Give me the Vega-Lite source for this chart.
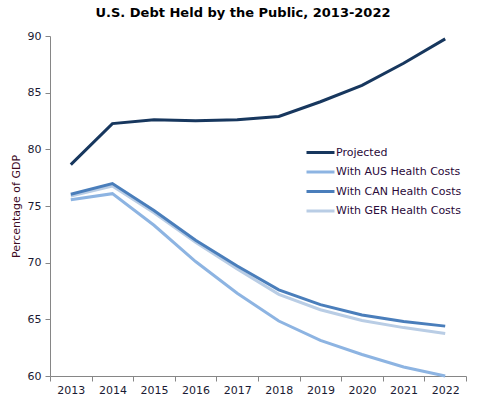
{
  "$schema": "https://vega.github.io/schema/vega-lite/v6.json",
  "width": 416,
  "height": 340,
  "autosize": {"type": "none"},
  "padding": {"left": 50, "top": 36, "right": 12, "bottom": 25},
  "background": "white",
  "title": {
    "text": "U.S. Debt Held by the Public, 2013-2022",
    "font": "DejaVu Sans",
    "fontSize": 13,
    "fontWeight": "bold",
    "color": "#000000",
    "anchor": "middle",
    "dx": -15,
    "offset": 10
  },
  "config": {
    "view": {"stroke": null},
    "font": "DejaVu Sans"
  },
  "data": {
    "values": [
      {"year": "2013", "series": "Projected", "value": 78.65},
      {"year": "2014", "series": "Projected", "value": 82.27},
      {"year": "2015", "series": "Projected", "value": 82.62},
      {"year": "2016", "series": "Projected", "value": 82.53},
      {"year": "2017", "series": "Projected", "value": 82.6},
      {"year": "2018", "series": "Projected", "value": 82.9},
      {"year": "2019", "series": "Projected", "value": 84.2},
      {"year": "2020", "series": "Projected", "value": 85.65},
      {"year": "2021", "series": "Projected", "value": 87.6},
      {"year": "2022", "series": "Projected", "value": 89.75},
      {"year": "2013", "series": "With AUS Health Costs", "value": 75.56},
      {"year": "2014", "series": "With AUS Health Costs", "value": 76.09},
      {"year": "2015", "series": "With AUS Health Costs", "value": 73.3},
      {"year": "2016", "series": "With AUS Health Costs", "value": 70.1},
      {"year": "2017", "series": "With AUS Health Costs", "value": 67.3},
      {"year": "2018", "series": "With AUS Health Costs", "value": 64.85},
      {"year": "2019", "series": "With AUS Health Costs", "value": 63.15},
      {"year": "2020", "series": "With AUS Health Costs", "value": 61.9},
      {"year": "2021", "series": "With AUS Health Costs", "value": 60.8},
      {"year": "2022", "series": "With AUS Health Costs", "value": 60.0},
      {"year": "2013", "series": "With GER Health Costs", "value": 75.88},
      {"year": "2014", "series": "With GER Health Costs", "value": 76.76},
      {"year": "2015", "series": "With GER Health Costs", "value": 74.4},
      {"year": "2016", "series": "With GER Health Costs", "value": 71.8},
      {"year": "2017", "series": "With GER Health Costs", "value": 69.45},
      {"year": "2018", "series": "With GER Health Costs", "value": 67.2},
      {"year": "2019", "series": "With GER Health Costs", "value": 65.85},
      {"year": "2020", "series": "With GER Health Costs", "value": 64.9},
      {"year": "2021", "series": "With GER Health Costs", "value": 64.27},
      {"year": "2022", "series": "With GER Health Costs", "value": 63.75},
      {"year": "2013", "series": "With CAN Health Costs", "value": 76.03},
      {"year": "2014", "series": "With CAN Health Costs", "value": 76.98},
      {"year": "2015", "series": "With CAN Health Costs", "value": 74.6},
      {"year": "2016", "series": "With CAN Health Costs", "value": 71.97},
      {"year": "2017", "series": "With CAN Health Costs", "value": 69.7},
      {"year": "2018", "series": "With CAN Health Costs", "value": 67.6},
      {"year": "2019", "series": "With CAN Health Costs", "value": 66.3},
      {"year": "2020", "series": "With CAN Health Costs", "value": 65.38},
      {"year": "2021", "series": "With CAN Health Costs", "value": 64.8},
      {"year": "2022", "series": "With CAN Health Costs", "value": 64.4}
    ]
  },
  "mark": {"type": "line", "strokeWidth": 3, "strokeCap": "butt"},
  "encoding": {
    "x": {
      "field": "year",
      "type": "ordinal",
      "bandPosition": 0.5,
      "scale": {"type": "band", "paddingInner": 0, "paddingOuter": 0},
      "axis": {
        "title": null,
        "labelAngle": 0,
        "tickBand": "extent",
        "domainColor": "#868686",
        "tickColor": "#868686",
        "tickSize": 5,
        "labelFont": "DejaVu Sans",
        "labelFontSize": 11,
        "labelColor": "#1a1a33",
        "labelPadding": 3,
        "grid": false
      }
    },
    "y": {
      "field": "value",
      "type": "quantitative",
      "scale": {"domain": [60, 90], "nice": false, "zero": false},
      "axis": {
        "values": [60, 65, 70, 75, 80, 85, 90],
        "title": "Percentage of GDP",
        "titleFont": "DejaVu Sans",
        "titleFontSize": 11,
        "titleFontWeight": "normal",
        "titleColor": "#3d0a1f",
        "titlePadding": 6,
        "domainColor": "#868686",
        "tickColor": "#868686",
        "tickSize": 5,
        "labelFont": "DejaVu Sans",
        "labelFontSize": 11,
        "labelColor": "#1a1a33",
        "labelPadding": 4,
        "grid": false
      }
    },
    "color": {
      "field": "series",
      "type": "nominal",
      "scale": {
        "domain": ["Projected", "With AUS Health Costs", "With CAN Health Costs", "With GER Health Costs"],
        "range": ["#17375E", "#8DB4E2", "#4A7EBB", "#B9CDE5"]
      },
      "legend": {
        "title": null,
        "orient": "none",
        "legendX": 255,
        "legendY": 108,
        "symbolType": "M-1,0H3",
        "symbolSize": 196,
        "symbolStrokeWidth": 3,
        "symbolFillColor": "transparent",
        "labelFont": "DejaVu Sans",
        "labelFontSize": 11,
        "labelColor": "#2a0a3a",
        "labelOffset": 14,
        "rowPadding": 4.5
      }
    },
    "order": {"field": "series"}
  }
}
